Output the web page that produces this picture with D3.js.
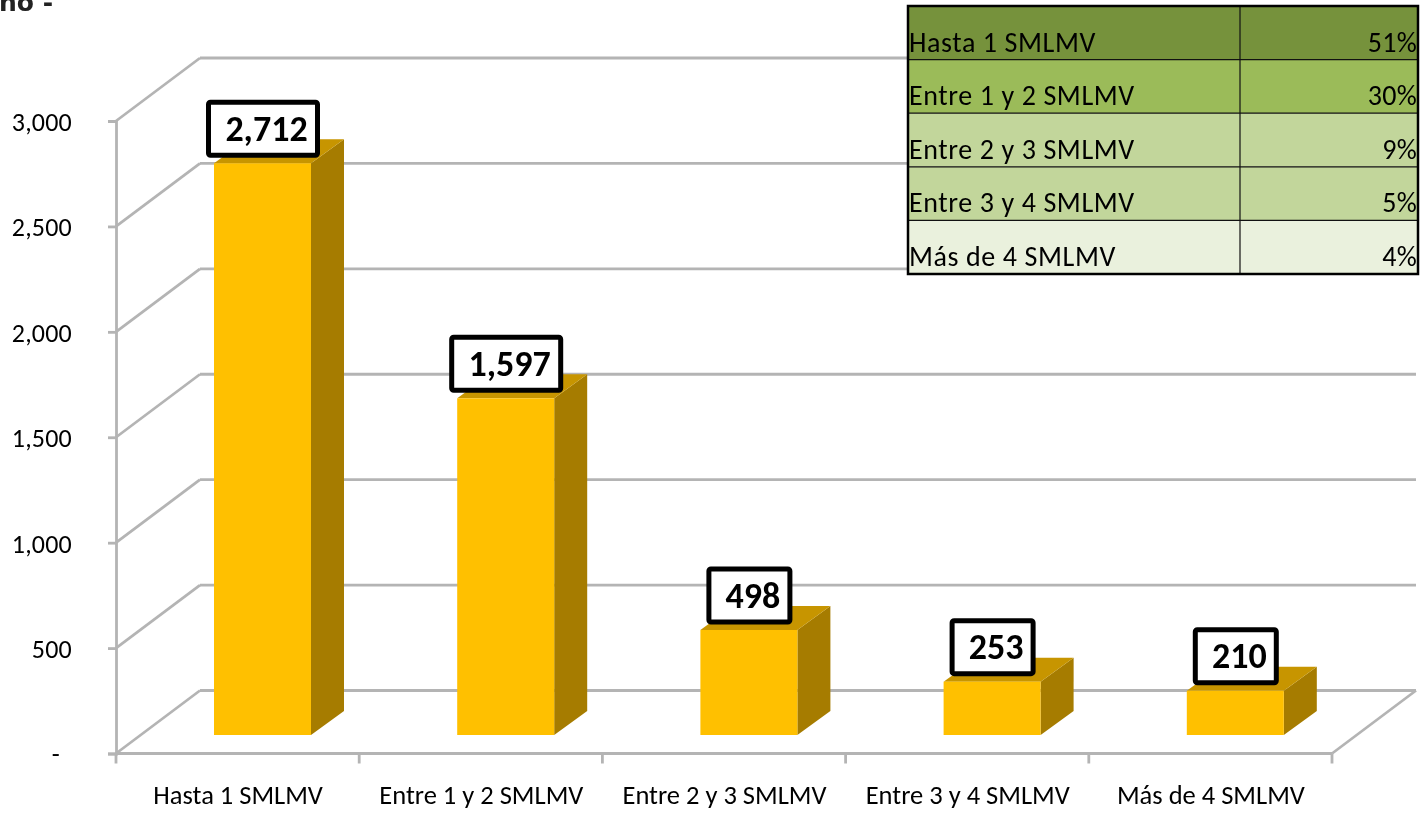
<!DOCTYPE html>
<html><head><meta charset="utf-8">
<style>html,body{margin:0;padding:0;background:#fff;overflow:hidden}svg{display:block;filter:blur(0.35px)}text{font-family:Carlito,Lato,"Open Sans",sans-serif}</style>
<script src="https://cdnjs.cloudflare.com/ajax/libs/d3/7.8.5/d3.min.js"></script>
</head><body><svg id="c" width="1425" height="813"></svg>
<script>
const categories=["Hasta 1 SMLMV","Entre 1 y 2 SMLMV","Entre 2 y 3 SMLMV","Entre 3 y 4 SMLMV","Más de 4 SMLMV"];
const values=[2712,1597,498,253,210];
const shares=["51%","30%","9%","5%","4%"];
const shareColors=["#76923c","#9bbb59","#c2d69b","#c2d69b","#eaf1dd"];
const yTicks=[0,500,1000,1500,2000,2500,3000];

const svg=d3.select("#c");
const x=d3.scaleBand().domain(categories).range([116,1332]).paddingInner(0).paddingOuter(0);
const y=d3.scaleLinear().domain([0,3000]).range([753.5,121]);
const D={x:84,y:-63}, floorD={x:98,y:-18.5}, barW=97, barD={x:33,y:-24};
const grid="#b4b4b4";

// gridlines and side wall
const g=svg.append("g").attr("fill","none").attr("stroke",grid).attr("stroke-width",2.8);
g.selectAll("line.b").data(yTicks).join("line").attr("class","b")
 .attr("x1",x.range()[0]+D.x).attr("x2",x.range()[1]+D.x)
 .attr("y1",d=>y(d)+D.y).attr("y2",d=>y(d)+D.y);
g.selectAll("line.d").data(yTicks).join("line").attr("class","d")
 .attr("x1",x.range()[0]).attr("x2",x.range()[0]+D.x)
 .attr("y1",d=>y(d)).attr("y2",d=>y(d)+D.y);
g.append("line").attr("x1",x.range()[1]).attr("x2",x.range()[1]+D.x).attr("y1",y(0)).attr("y2",y(0)+D.y);

// axes
const yAxis=d3.axisLeft(y).tickValues(yTicks).tickSize(8).tickPadding(36)
  .tickFormat(d=>d===0?"-":d3.format(",")(d));
const ya=svg.append("g").attr("transform","translate(116,0)").call(yAxis);
ya.selectAll("path,line").attr("stroke",grid).attr("stroke-width",2.8);
ya.selectAll("text").attr("font-size",26).attr("letter-spacing",0.2).attr("fill","#000").attr("dy","0.36em");
ya.selectAll(".tick").filter(d=>d===0).select("text").attr("dx",-12);

const xa=svg.append("g").attr("transform",`translate(0,${y(0)})`)
  .call(d3.axisBottom(x).tickSize(0).tickPadding(32));
xa.select("path").remove();
xa.selectAll("text").attr("font-size",26.5).attr("fill","#000").attr("dx",0.5);
svg.append("g").selectAll("line").data(categories.map(c=>x(c)).concat(x.range()[1])).join("line")
 .attr("x1",d=>d).attr("x2",d=>d).attr("y1",y(0)).attr("y2",y(0)+10)
 .attr("stroke",grid).attr("stroke-width",2.8);
svg.append("line").attr("x1",x.range()[0]).attr("x2",x.range()[1]).attr("y1",y(0)).attr("y2",y(0)).attr("stroke",grid).attr("stroke-width",2.8);

// bars
const h=d=>y(0)-y(d);
const bars=svg.append("g").selectAll("g").data(categories.map((c,i)=>({c,v:values[i]}))).join("g")
 .attr("transform",d=>`translate(${x(d.c)+floorD.x},${y(0)+floorD.y})`);
bars.append("polygon").attr("fill","#a67c00")
 .attr("points",d=>[[barW,0],[barW+barD.x,barD.y],[barW+barD.x,barD.y-h(d.v)],[barW,-h(d.v)]].join(" "));
bars.append("polygon").attr("fill","#c79500")
 .attr("points",d=>[[0,-h(d.v)],[barD.x,-h(d.v)+barD.y],[barW+barD.x,-h(d.v)+barD.y],[barW,-h(d.v)]].join(" "));
bars.append("rect").attr("fill","#ffc000").attr("width",barW).attr("y",d=>-h(d.v)).attr("height",d=>h(d.v));

// value labels
const lab=bars.append("g").attr("transform",d=>`translate(${barW/2+0.5},${-h(d.v)-34.5})`);
lab.append("rect").attr("x",d=>d.v>=1000?-54.5:-40.5).attr("width",d=>d.v>=1000?109:81)
 .attr("y",-26.5).attr("height",53).attr("rx",2).attr("fill","#fff").attr("stroke","#000").attr("stroke-width",5);
lab.append("text").attr("text-anchor","middle").attr("dx",3.5).attr("dy","0.34em")
 .attr("font-size",36).attr("font-weight",700).attr("fill","#000").text(d=>d3.format(",")(d.v));

// table
const tx=d3.scaleOrdinal().domain(["a","b"]).range([908,1240]);
const tRight=1418;
const ty=d3.scaleBand().domain(categories).range([6,274]);
const rows=svg.append("g").selectAll("g").data(categories).join("g").attr("transform",d=>`translate(0,${ty(d)})`);
rows.append("rect").attr("x",908).attr("width",tRight-908).attr("height",ty.bandwidth()).attr("fill",(d,i)=>shareColors[i]);
rows.append("text").attr("x",909).attr("y",ty.bandwidth()-8).attr("font-size",28).attr("letter-spacing",0.6).attr("fill","#000").text(d=>d);
rows.append("text").attr("x",tRight-1).attr("y",ty.bandwidth()-8).attr("text-anchor","end").attr("font-size",28).attr("letter-spacing",0.3).attr("fill","#000").text((d,i)=>shares[i]);
rows.filter((d,i)=>i>0).append("line").attr("x1",908).attr("x2",tRight).attr("stroke","#111").attr("stroke-width",1.2);
svg.append("line").attr("x1",tx("b")).attr("x2",tx("b")).attr("y1",6).attr("y2",274).attr("stroke","#111").attr("stroke-width",1.2);
svg.append("rect").attr("x",908).attr("y",6).attr("width",tRight-908).attr("height",268).attr("fill","none").attr("stroke","#000").attr("stroke-width",2.5);

// clipped fragment of the source title
svg.append("text").attr("x",-1).attr("y",11).attr("font-size",25).attr("font-weight",700).attr("fill","#222").style("font-family","'DejaVu Sans',sans-serif").text("no -");
</script></body></html>
